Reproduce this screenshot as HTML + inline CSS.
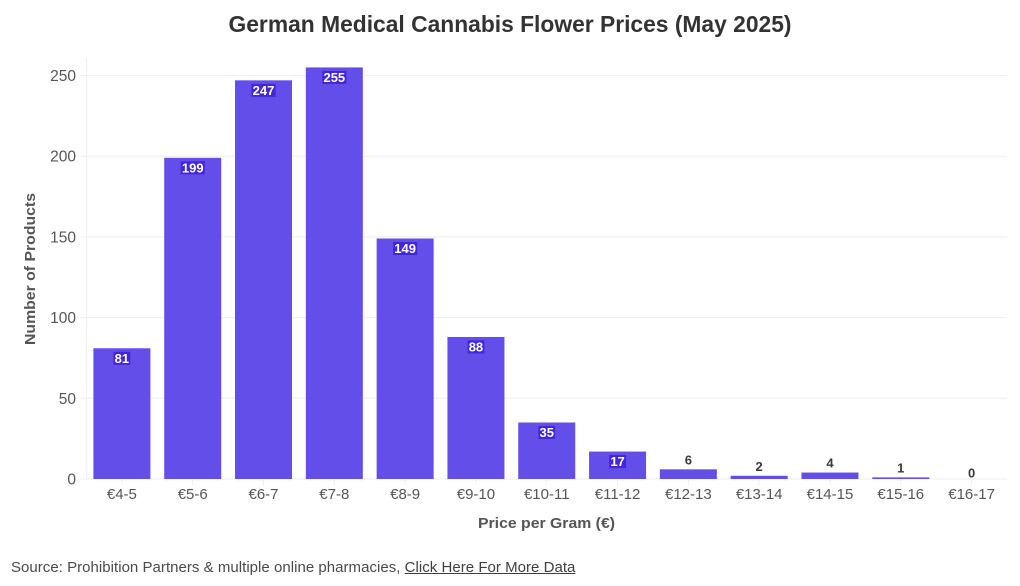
<!DOCTYPE html>
<html>
<head>
<meta charset="utf-8">
<title>German Medical Cannabis Flower Prices</title>
<style>
html,body{margin:0;padding:0;background:#fff;width:1020px;height:586px;overflow:hidden}
svg{display:block;font-family:"Liberation Sans",sans-serif}
.src{position:absolute;left:11px;top:558.5px;font:15px/18px "Liberation Sans",sans-serif;letter-spacing:.03px;color:#4a4a4a;white-space:nowrap}
.src a{color:#3f3f3f;text-decoration:underline}
</style>
</head>
<body>
<svg id="chart" width="1020" height="586" viewBox="0 0 1020 586" xmlns="http://www.w3.org/2000/svg">
  <text x="510" y="32" text-anchor="middle" font-size="23" font-weight="700" fill="#333333" textLength="563" lengthAdjust="spacingAndGlyphs">German Medical Cannabis Flower Prices (May 2025)</text>
  <g id="grid"></g>
  <g id="bars"></g>
  <g id="xticks"></g>
  <g id="yticks"></g>
  <g id="labels"></g>
  <text x="546.5" y="528" text-anchor="middle" font-size="15" font-weight="700" fill="#555555" textLength="137" lengthAdjust="spacingAndGlyphs">Price per Gram (€)</text>
  <text transform="translate(35 269) rotate(-90)" text-anchor="middle" font-size="15" font-weight="700" fill="#555555" textLength="152" lengthAdjust="spacingAndGlyphs">Number of Products</text>
</svg>
<div class="src">Source: Prohibition Partners &amp; multiple online pharmacies, <a href="#">Click Here For More Data</a></div>
<script>
const categories = ["€4-5","€5-6","€6-7","€7-8","€8-9","€9-10","€10-11","€11-12","€12-13","€13-14","€14-15","€15-16","€16-17"];
const productCounts = [81,199,247,255,149,88,35,17,6,2,4,1,0];
const yTickValues = [0,50,100,150,200,250];

const NS = "http://www.w3.org/2000/svg";
const plotLeft = 86.5, plotRight = 1007, plotBottom = 479, plotTop = 58;
const bandWidth = (plotRight - plotLeft) / categories.length;
const barWidth = 57;
const yScale = v => plotBottom - v * (403.5 / 250);
const xCenter = i => plotLeft + bandWidth * (i + 0.5);

function make(tag, attrs, parent) {
  const el = document.createElementNS(NS, tag);
  for (const k in attrs) el.setAttribute(k, attrs[k]);
  parent.appendChild(el);
  return el;
}

const grid = document.getElementById("grid");
const bars = document.getElementById("bars");
const xticks = document.getElementById("xticks");
const yticks = document.getElementById("yticks");
const labels = document.getElementById("labels");

const yDomain = make("line", {x1: plotLeft, x2: plotLeft, y1: plotTop, y2: plotBottom, stroke: "#eeeeee"}, grid);



yTickValues.forEach(v => {
  const y = yScale(v);
  const line = make("line", {x1: plotLeft - 6, x2: plotRight, y1: y, y2: y, stroke: "#eeeeee"}, grid);
  
  
  const t = make("text", {x: 76, y: y + 5.5, "text-anchor": "end", "font-size": 15.5, fill: "#555555"}, yticks);
  
  
  t.textContent = v;
});

categories.forEach((c, i) => {
  const x = xCenter(i), v = productCounts[i], top = yScale(v);
  const bar = make("rect", {x: x - barWidth / 2, y: top, width: barWidth, height: plotBottom - top, fill: "#5b45e8", "fill-opacity": 0.95}, bars);
  
  

  const tick = make("line", {x1: x, x2: x, y1: plotBottom, y2: plotBottom + 6, stroke: "#eeeeee"}, xticks);
  
  
  const t = make("text", {x: x, y: plotBottom + 20, "text-anchor": "middle", "font-size": 15, fill: "#555555"}, xticks);
  
  
  t.textContent = c;

  const inside = v >= 17;
  const cy = inside ? top + 10 : top - (v === 0 ? 6 : 9.5);
  if (inside) {
    const w = String(v).length * 7.4 + 2;
    const bg = make("rect", {x: x - w / 2, y: cy - 6.5, width: w, height: 13, fill: "#4326d8"}, labels);
    
    
  }
  const lab = make("text", {x: x, y: cy + 4.5, "text-anchor": "middle", "font-size": 13, "font-weight": 700, fill: inside ? "#ffffff" : "#3a3a3a"}, labels);
  
  
  lab.textContent = v;
});
</script>
</body>
</html>
